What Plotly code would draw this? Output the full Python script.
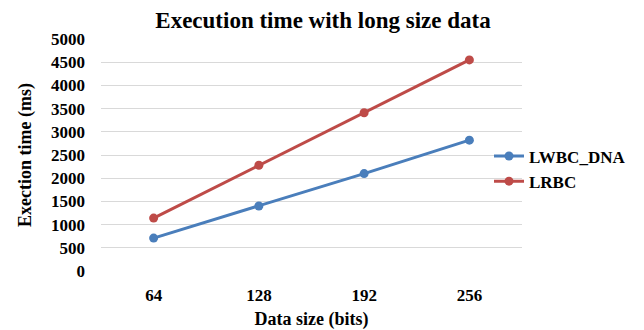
import plotly.graph_objects as go

data_size = [64, 128, 192, 256]
lwbc_dna = [710, 1400, 2100, 2820]
lrbc = [1140, 2280, 3410, 4550]
y_ticks = list(range(0, 5001, 500))

blue = "#4A7EBB"
red = "#BE4B48"
font_family = "Liberation Serif, Times New Roman, serif"

fig = go.Figure()
fig.add_trace(go.Scatter(x=data_size, y=lwbc_dna, name="<b>LWBC_DNA</b>", mode="lines+markers",
                         line=dict(color=blue, width=3), marker=dict(size=9, color=blue)))
fig.add_trace(go.Scatter(x=data_size, y=lrbc, name="<b>LRBC</b>", mode="lines+markers",
                         line=dict(color=red, width=3), marker=dict(size=9, color=red)))

fig.update_layout(
    width=644, height=330,
    margin=dict(l=101, r=122, t=39, b=59, autoexpand=False),
    paper_bgcolor="white", plot_bgcolor="white",
    font=dict(family=font_family, color="black"),
    title=dict(text="<b>Execution time with long size data</b>", x=323 / 644, xanchor="center",
               xref="container", y=1 - 20 / 330, yref="container", yanchor="middle",
               font=dict(size=23, family=font_family)),
    legend=dict(xref="container", yref="container", x=489 / 644, xanchor="left",
                y=1 - 169 / 330, yanchor="middle", font=dict(size=17, family=font_family),
                bgcolor="rgba(0,0,0,0)", itemwidth=30),
    xaxis=dict(range=[32, 288], tickvals=data_size, ticktext=["<b>%d</b>" % v for v in data_size],
               showgrid=False, zeroline=False, showline=False, ticks="", automargin=False,
               tickfont=dict(size=17), ticklabelstandoff=12,
               title=dict(text="<b>Data size (bits)</b>", font=dict(size=18), standoff=13)),
    yaxis=dict(range=[0, 5000], tickvals=y_ticks, ticktext=["<b>%d</b>" % v for v in y_ticks],
               showgrid=True, gridcolor="#D9D9D9", gridwidth=1, zeroline=False, showline=False,
               ticks="", automargin=False, tickfont=dict(size=17), ticklabelstandoff=15,
               title=dict(text="<b>Exection time (ms)</b>", font=dict(size=18), standoff=14)),
)
fig.write_html("out.html")
